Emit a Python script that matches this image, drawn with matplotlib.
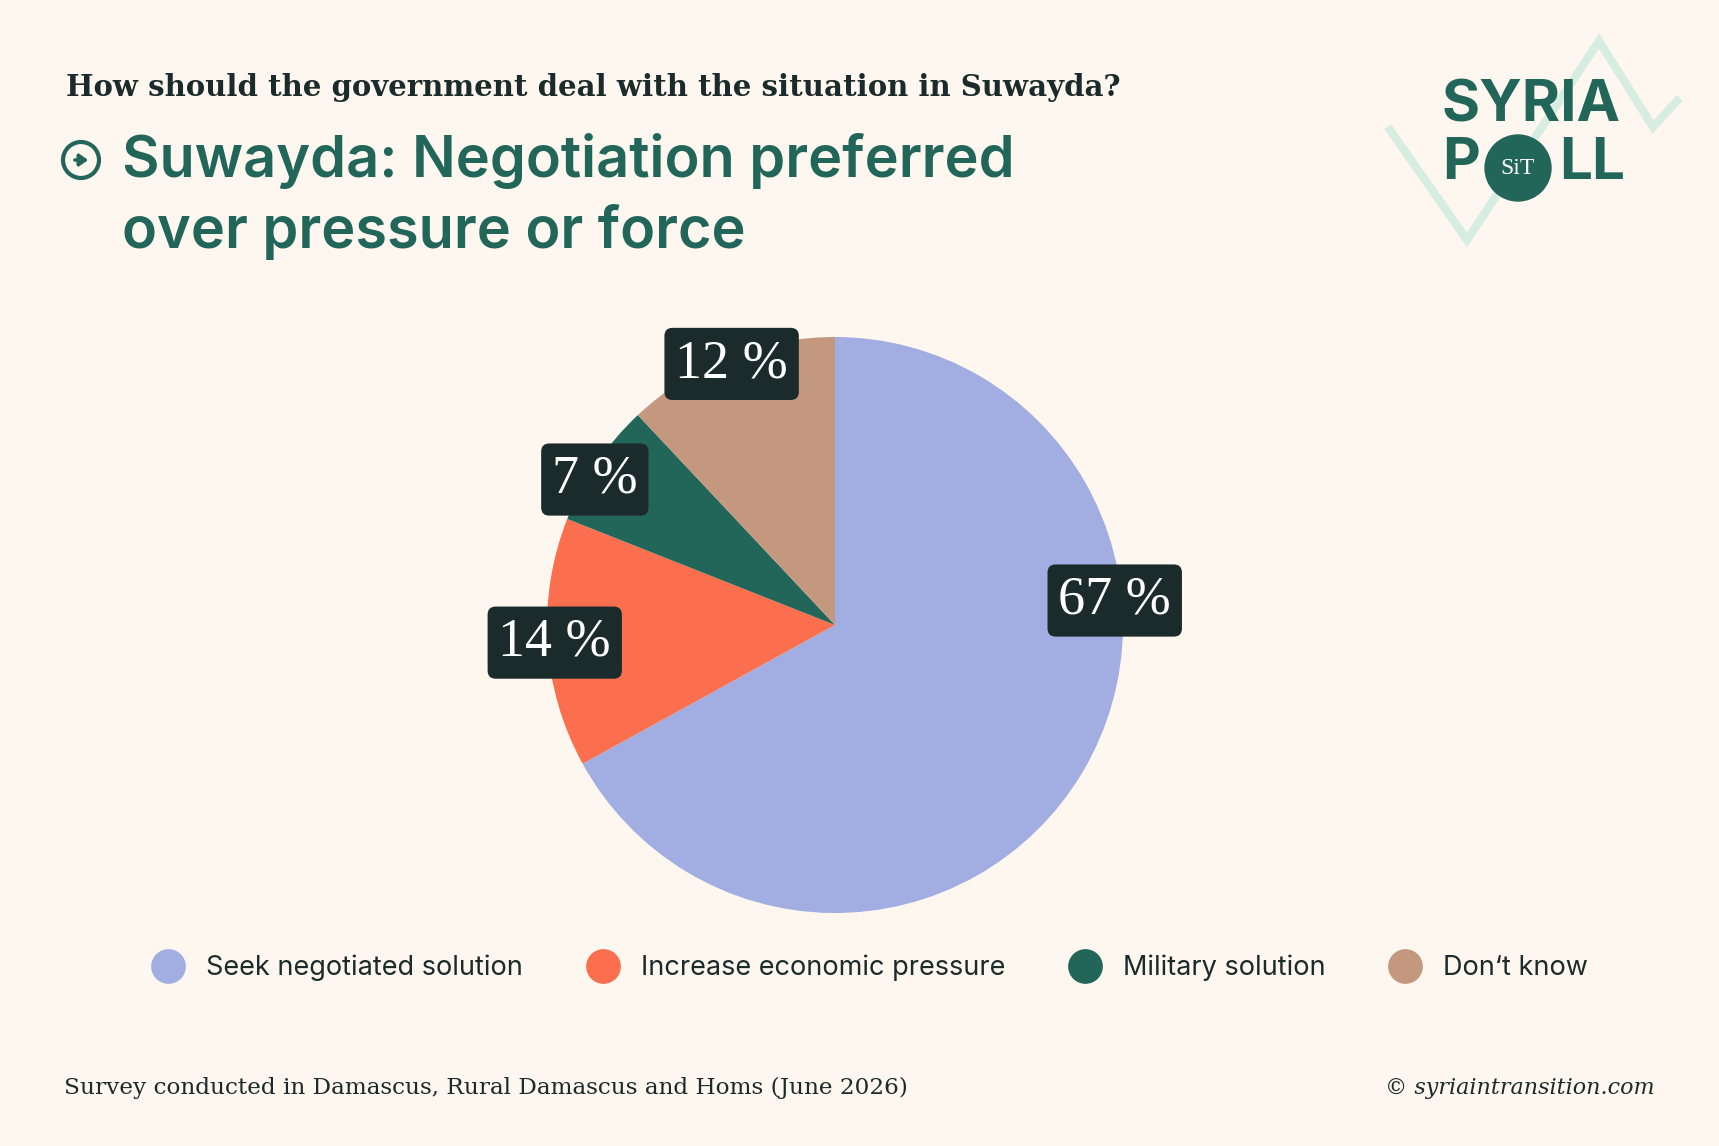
import matplotlib
matplotlib.use('Agg')
import matplotlib.pyplot as plt
import numpy as np
from matplotlib.patches import Circle
from matplotlib.lines import Line2D

# Data
categories = ['Seek negotiated solution', 'Increase economic pressure', 'Military solution', 'Don\u2018t know']
values = [67, 14, 7, 12]
colors = ['#A2AEE2', '#FB6F4E', '#22665A', '#C4987E']

BG = '#FEF7F0'
DARK = '#1B2A2A'
GREEN = '#22665A'

W, H = 1719, 1146
fig = plt.figure(figsize=(W / 100, H / 100), dpi=100, facecolor=BG)

# overlay axes in pixel coordinates for titles, logo and footer
ov = fig.add_axes([0, 0, 1, 1], zorder=0)
ov.set_xlim(0, W)
ov.set_ylim(H, 0)
ov.axis('off')

ov.text(66, 87, 'How should the government deal with the situation in Suwayda?',
        fontsize=21, family='DejaVu Serif', fontweight='bold', color=DARK, va='center')

ov.text(122, 161, 'Suwayda: Negotiation preferred', fontsize=41.5, family='Inter',
        fontweight='semibold', color=GREEN, va='center')
ov.text(122, 232, 'over pressure or force', fontsize=41.5, family='Inter',
        fontweight='semibold', color=GREEN, va='center')

# circled arrow icon
ov.add_patch(Circle((81, 160), 18, fill=False, lw=3, ec=GREEN))
ov.annotate('', xy=(91, 160), xytext=(72, 160),
            arrowprops=dict(arrowstyle='-|>,head_width=0.35,head_length=0.5', color=GREEN, lw=2.5))

# logo
ov.add_line(Line2D([1390, 1467, 1599, 1653, 1677], [130, 240, 41, 127, 101],
                   color='#D8EDE2', lw=6, solid_joinstyle='miter', zorder=1))
ov.text(1442, 106, 'SYRIA', fontsize=42, family='Inter', fontweight='bold',
        color=GREEN, va='center', ha='left', zorder=2)
ov.text(1442, 164, 'P', fontsize=42, family='Inter', fontweight='bold',
        color=GREEN, va='center', ha='left', zorder=2)
ov.text(1625, 164, 'LL', fontsize=42, family='Inter', fontweight='bold',
        color=GREEN, va='center', ha='right', zorder=2)
ov.add_patch(Circle((1518, 168), 33, color=GREEN, zorder=2))
ov.text(1518, 168, 'SiT', fontsize=17, family='Liberation Serif', color='white',
        va='center', ha='center', zorder=3)

# footer
ov.text(64, 1088, 'Survey conducted in Damascus, Rural Damascus and Homs (June 2026)',
        fontsize=16.7, family='DejaVu Serif', color=DARK, va='center')
ov.text(1655, 1088, '\u00a9 syriaintransition.com', fontsize=16, family='DejaVu Serif',
        style='italic', color=DARK, va='center', ha='right')

# pie
cx, cy, r = 835, 625, 288
ax = fig.add_axes([(cx - r) / W, (H - cy - r) / H, 2 * r / W, 2 * r / H], zorder=1)
ax.set_facecolor('none')
wedges, _ = ax.pie(values, colors=colors, startangle=90, counterclock=False,
                   wedgeprops=dict(linewidth=0))
ax.set_xlim(-1, 1)
ax.set_ylim(-1, 1)
ax.set_aspect('equal')

label_angles = [(w.theta1 + w.theta2) / 2 for w in wedges]
label_angles[0] = 5  # large slice label sits near the right edge
label_angles[2] += 3
for ang, v in zip(label_angles, values):
    a = np.deg2rad(ang)
    ax.text(0.975 * np.cos(a), 0.975 * np.sin(a), f'{v} %', fontsize=39,
            family='Liberation Serif', color='white', ha='center', va='center',
            bbox=dict(boxstyle='round,pad=0.2,rounding_size=0.15', fc=DARK, ec='none'),
            clip_on=False)

# legend
handles = [Line2D([], [], marker='o', ls='none', ms=25, mfc=c, mec='none') for c in colors]
leg = fig.legend(handles, categories, loc='center', bbox_to_anchor=(870 / W, 1 - 968 / H),
                 ncol=4, frameon=False, handlelength=1.2, handletextpad=0.8, columnspacing=2.35,
                 prop=dict(family='Inter', size=19.5))
for t in leg.get_texts():
    t.set_color(DARK)

fig.savefig('out.png', dpi=100, facecolor=BG)
